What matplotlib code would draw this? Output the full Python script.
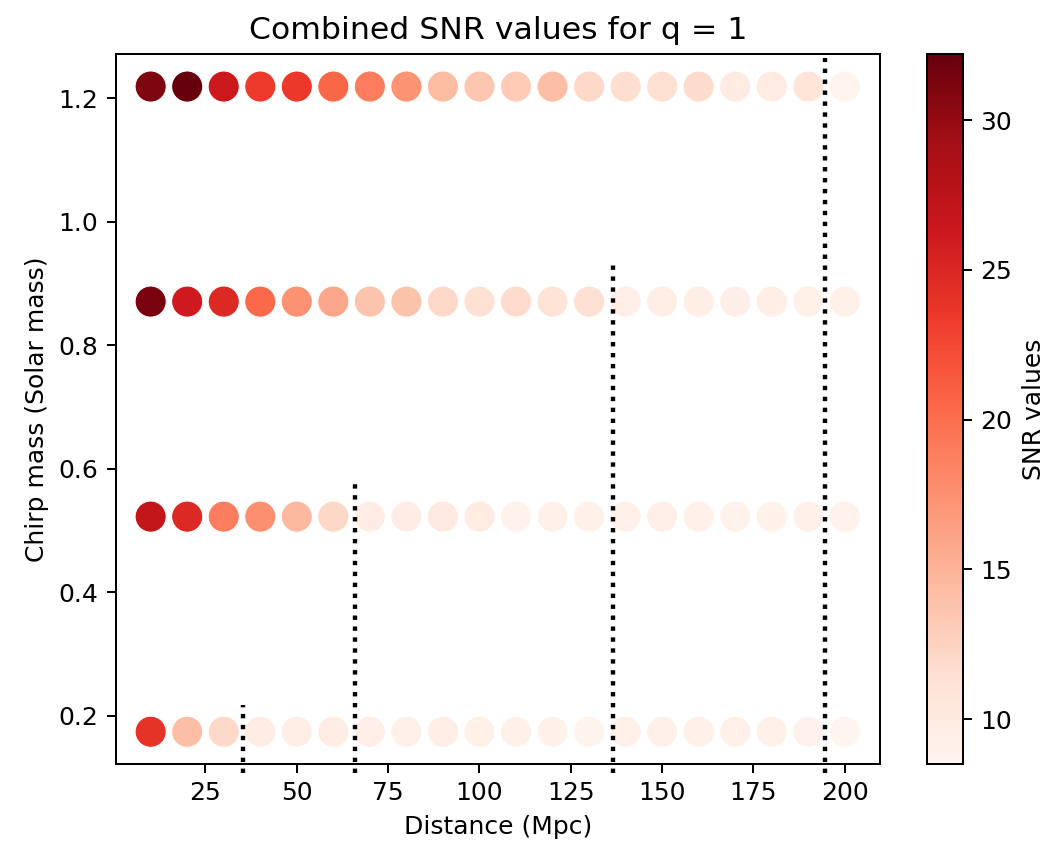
import numpy as np
import matplotlib
matplotlib.use("Agg")
from matplotlib import pyplot as plt

# distances (Mpc) and chirp masses (Solar mass) of the grid
distances = np.arange(10, 201, 10)
chirp_masses = [0.1741, 0.5224, 0.8706, 1.2188]

# combined SNR per chirp mass row, one value per distance
snr_mc_0174 = [24.0, 14.2, 12.1, 9.7, 9.6, 9.7, 9.4, 9.2, 9.6, 9.3,
               9.2, 9.0, 8.8, 9.2, 9.1, 9.2, 9.2, 9.1, 8.9, 8.5]
snr_mc_0522 = [27.0, 24.8, 18.9, 17.6, 14.6, 12.2, 9.7, 9.7, 10.0, 9.9,
               8.9, 9.1, 9.2, 9.1, 9.4, 9.2, 8.9, 9.0, 9.2, 8.9]
snr_mc_0871 = [31.3, 26.0, 24.8, 20.4, 17.4, 15.9, 13.7, 13.8, 12.1, 11.4,
               11.9, 11.0, 11.3, 9.4, 9.6, 9.6, 9.5, 9.6, 9.3, 9.3]
snr_mc_1219 = [31.0, 32.2, 26.3, 23.4, 23.5, 20.6, 18.9, 17.3, 14.4, 13.5,
               13.2, 14.2, 12.1, 11.7, 11.5, 11.8, 9.9, 9.9, 10.9, 8.7]
snr_rows = [snr_mc_0174, snr_mc_0522, snr_mc_0871, snr_mc_1219]

# detection horizon for each chirp mass
horizons = [35.2, 65.9, 136.6, 194.6]
horizon_tops = [0.218, 0.581, 0.934, 1.265]

xs = np.tile(distances, len(chirp_masses))
ys = np.repeat(chirp_masses, len(distances))
snr = np.concatenate(snr_rows)

dpi = 180
fig = plt.figure(figsize=(1056 / dpi, 847 / dpi), dpi=dpi)
ax = fig.add_axes([0.1098, 0.098, 0.7231, 0.8379])
cax = fig.add_axes([0.8778, 0.098, 0.0337, 0.8379])

sc = ax.scatter(xs, ys, c=snr, cmap='Reds', s=155,
                edgecolors='white', linewidths=0.4)
xlim = ax.get_xlim()
ylim = ax.get_ylim()

ax.vlines(horizons, 0.108, horizon_tops, colors='k',
          linestyles=[(0, (1, 1.5))], linewidth=1.75, clip_on=False)
ax.set_xlim(xlim)
ax.set_ylim(ylim)

ax.set_xlabel('Distance (Mpc)')
ax.set_ylabel('Chirp mass (Solar mass)')
ax.set_title('Combined SNR values for q = 1', fontsize=12.6)

cbar = fig.colorbar(sc, cax=cax)
cbar.set_label('SNR values')

fig.savefig('out.png', dpi=dpi)
